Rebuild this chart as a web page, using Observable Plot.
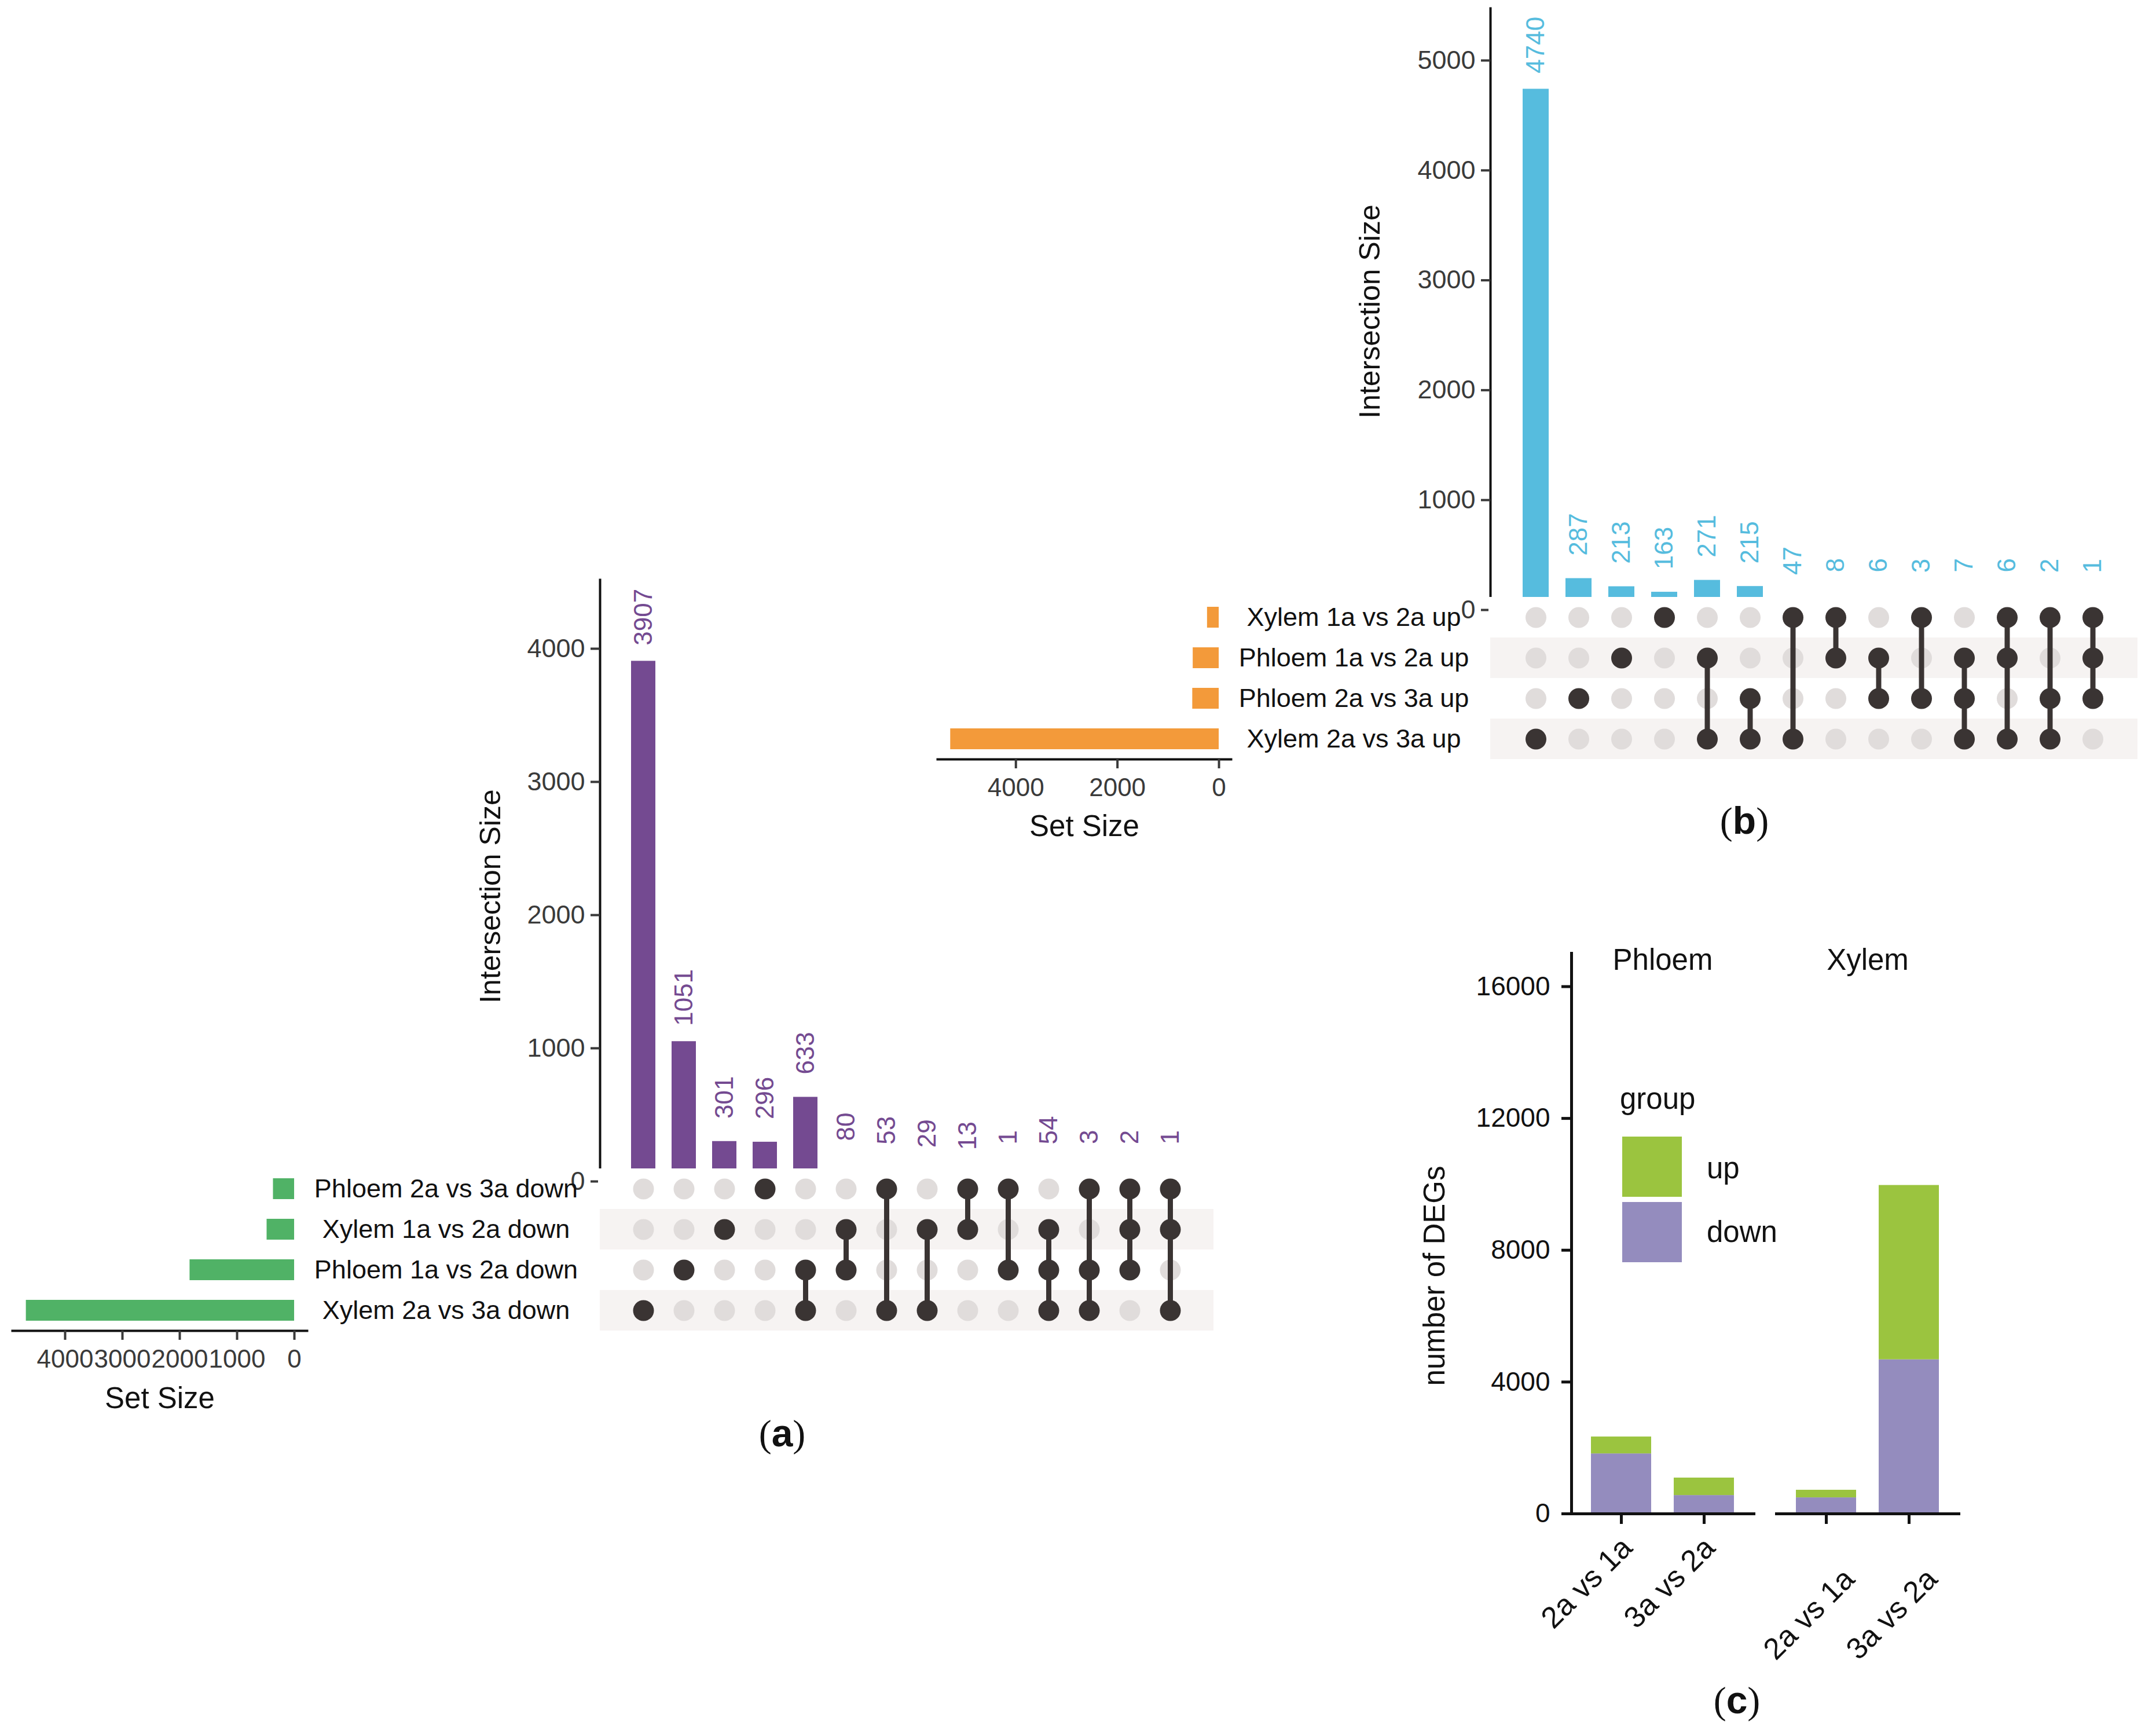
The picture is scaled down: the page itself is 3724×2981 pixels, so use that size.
<!DOCTYPE html>
<html><head><meta charset="utf-8">
<script src="https://cdn.jsdelivr.net/npm/d3@7"></script>
<script src="https://cdn.jsdelivr.net/npm/@observablehq/plot@0.6"></script>
<style>
html,body{margin:0;padding:0;background:#fff;}
#root{position:relative;width:3724px;height:2981px;overflow:hidden;font-family:"Liberation Sans",Arial,Helvetica,sans-serif;color:#111;}
.abs{position:absolute;line-height:1;white-space:nowrap;}
.abs svg{max-width:none;display:block;}
</style></head><body><div id="root"></div>
<script>
// ---------- Panel (a): down-regulated sets ----------
const setsA = ["Phloem 2a vs 3a down", "Xylem 1a vs 2a down", "Phloem 1a vs 2a down", "Xylem 2a vs 3a down"];
const setSizesA = [369, 480, 1824, 4680];
const interSizesA = [3907, 1051, 301, 296, 633, 80, 53, 29, 13, 1, 54, 3, 2, 1];
const interMembersA = [[3],[2],[1],[0],[2,3],[1,2],[0,3],[1,3],[0,1],[0,2],[1,2,3],[0,2,3],[0,1,2],[0,1,3]];
const stripesA = [setsA[1], setsA[3]];
const ticksA = [0, 1000, 2000, 3000, 4000];
const setTicksA = [4000, 3000, 2000, 1000, 0];

// ---------- Panel (b): up-regulated sets ----------
const setsB = ["Xylem 1a vs 2a up", "Phloem 1a vs 2a up", "Phloem 2a vs 3a up", "Xylem 2a vs 3a up"];
const setSizesB = [230, 512, 521, 5288];
const interSizesB = [4740, 287, 213, 163, 271, 215, 47, 8, 6, 3, 7, 6, 2, 1];
const interMembersB = [[3],[2],[1],[0],[1,3],[2,3],[0,3],[0,1],[1,2],[0,2],[1,2,3],[0,1,3],[0,2,3],[0,1,2]];
const stripesB = [setsB[1], setsB[3]];
const ticksB = [0, 1000, 2000, 3000, 4000, 5000];
const setTicksB = [4000, 2000, 0];

// ---------- Panel (c): number of DEGs ----------
const tissuesC = ["Phloem", "Xylem"];
const compsC = ["2a vs 1a", "3a vs 2a"];
const groupsC = ["up", "down"];
const phloemDown = [1824, 560];
const phloemUp = [512, 530];
const xylemDown = [490, 4680];
const xylemUp = [230, 5290];
const ticksC = [0, 4000, 8000, 12000, 16000];

// ---------- styles ----------
const FONT = '"Liberation Sans", Arial, Helvetica, sans-serif';
const PURPLE_A = "#744a91", CYAN_B = "#56bcde", ORANGE_B = "#f39a3a", GREEN_A = "#50b266";
const DARK = "#3a3433", GREY = "#e0dcdb", STRIPE = "#f6f3f2";
const colorsC = ["#9bc43f", "#948cbe"];
const plain = d => String(d);

const root = document.getElementById("root");
function place(node, left, top) {
  const d = document.createElement("div");
  d.className = "abs";
  d.style.left = left + "px";
  d.style.top = top + "px";
  d.appendChild(node);
  root.appendChild(d);
  return d;
}
const transparent = {background: "transparent", overflow: "visible", fontFamily: FONT};

function upset(o) {
  const cols = d3.range(o.inter.length);
  const xOpt = {type: "band", domain: cols, paddingInner: o.pi, paddingOuter: o.po, axis: null};
  const bars = o.inter.map((v, i) => ({id: i, size: v}));
  const FH = o.frameH;
  // intersection bars
  const barsPlot = Plot.plot({
    width: o.barsML + o.fw + 12, height: 10 + FH + 40,
    marginLeft: o.barsML, marginRight: 12, marginTop: 10, marginBottom: 40,
    x: xOpt,
    y: {domain: [0, o.ymax]},
    style: transparent,
    marks: [
      Plot.barY(bars, {x: "id", y: "size", fill: o.color}),
      Plot.text(bars, {x: "id", y: "size", text: d => String(d.size), rotate: -90, dy: -76,
        fill: o.color, fontSize: 44, textAnchor: "middle"}),
      Plot.frame({anchor: "left", stroke: "#111", strokeWidth: 4}),
      Plot.axisY(o.ticks, {tickSize: 16, tickPadding: 10, fontSize: 45, strokeWidth: 4, color: "#3a3a3a",
        tickFormat: plain, label: null}),
      Plot.text(["Intersection Size"], {text: d => d, frameAnchor: "left", rotate: -90, textAnchor: "middle",
        dx: o.titleDx, dy: o.titleDy, fontSize: 50, fill: "#111"})
    ]
  });
  place(barsPlot, o.frameLeft - o.barsML, o.frameTop - 10);

  // matrix
  const cells = [];
  o.members.forEach((m, i) => o.sets.forEach((s, j) => cells.push({id: i, set: s, on: m.includes(j)})));
  const links = o.members.map((m, i) => ({id: i, y1: o.sets[d3.min(m)], y2: o.sets[d3.max(m)], n: m.length}))
    .filter(d => d.n > 1);
  const matPlot = Plot.plot({
    width: 3 + o.fw, height: 280,
    marginLeft: 3, marginRight: 0, marginTop: 0, marginBottom: 0,
    x: xOpt,
    y: {type: "band", domain: o.sets, padding: 0, axis: null},
    style: {background: "#fff", overflow: "visible", fontFamily: FONT},
    marks: [
      Plot.cell(o.stripes, {y: d => d, fill: STRIPE}),
      Plot.dot(cells.filter(d => !d.on), {x: "id", y: "set", r: 18, fill: GREY}),
      Plot.link(links, {x1: "id", x2: "id", y1: "y1", y2: "y2", stroke: DARK, strokeWidth: 9}),
      Plot.dot(cells.filter(d => d.on), {x: "id", y: "set", r: 18, fill: DARK})
    ]
  });
  place(matPlot, o.frameLeft - 3, o.matTop);

  // set sizes
  const setData = o.sets.map((s, j) => ({set: s, size: o.setSizes[j]}));
  const setPlot = Plot.plot({
    width: o.setML + o.setFW + o.setMR, height: 280 + 170,
    marginLeft: o.setML, marginRight: o.setMR, marginTop: 0, marginBottom: 170,
    x: {domain: o.setDomain},
    y: {type: "band", domain: o.sets, padding: 0, axis: null},
    style: transparent,
    marks: [
      Plot.barX(setData, {x: "size", y: "set", fill: o.setColor, insetTop: 17, insetBottom: 17}),
      Plot.frame({anchor: "bottom", stroke: "#111", strokeWidth: 4}),
      Plot.axisX(o.setTicks, {anchor: "bottom", tickSize: 16, tickPadding: 16, fontSize: 44, strokeWidth: 4,
        color: "#3a3a3a", tickFormat: plain, label: null}),
      Plot.text(setData, {y: "set", text: "set", frameAnchor: "right", textAnchor: "middle", dx: o.labelDx,
        fontSize: 45, fill: "#111"}),
      Plot.text(["Set Size"], {text: d => d, frameAnchor: "bottom", textAnchor: "middle", dy: o.setTitleDy,
        fontSize: 51, fill: "#111"})
    ]
  });
  place(setPlot, o.setLeft, o.matTop);
}

// Panel (a)
upset({
  sets: setsA, setSizes: setSizesA, inter: interSizesA, members: interMembersA, stripes: stripesA,
  ticks: ticksA, setTicks: setTicksA, color: PURPLE_A, setColor: GREEN_A,
  pi: 0.406, po: 0.678, fw: 1060, frameLeft: 1036, frameTop: 1001, frameH: 1039, ymax: 4517,
  barsML: 238, titleDx: -189, titleDy: 27, matTop: 2018,
  setLeft: 0, setML: 21, setFW: 509, setMR: 506, setDomain: [4919, -222], labelDx: 240, setTitleDy: 133
});

// Panel (b)
upset({
  sets: setsB, setSizes: setSizesB, inter: interSizesB, members: interMembersB, stripes: stripesB,
  ticks: ticksB, setTicks: setTicksB, color: CYAN_B, setColor: ORANGE_B,
  pi: 0.398, po: 0.684, fw: 1118, frameLeft: 2574, frameTop: 14, frameH: 1039, ymax: 5474,
  barsML: 260, titleDx: -208, titleDy: 4, matTop: 1031,
  setLeft: 1580, setML: 39, setFW: 507, setMR: 448, setDomain: [5542, -239], labelDx: 212, setTitleDy: 132
});

// Panel (c)
function degPanel(tissue, down, up, left, ml, mr, fw, withY, tickPad, tickDx) {
  const data = [];
  compsC.forEach((c, i) => {
    data.push({comp: c, group: "down", value: down[i]});
    data.push({comp: c, group: "up", value: up[i]});
  });
  const marks = [
    Plot.barY(data, {x: "comp", y: "value", fill: "group"}),
    Plot.frame({anchor: "bottom", stroke: "#111", strokeWidth: 5}),
    Plot.axisX({tickSize: 18, strokeWidth: 5, stroke: "#111", text: null, label: null}),
    Plot.axisX({tickRotate: -45, tickSize: 0, tickPadding: 18 + tickPad, dx: tickDx, fontSize: 52,
      color: "#111", label: null}),
    Plot.text([tissue], {text: d => d, frameAnchor: "top", textAnchor: "middle", lineAnchor: "middle", dy: 12,
      fontSize: 51, fill: "#111"})
  ];
  if (withY) {
    marks.push(
      Plot.frame({anchor: "left", stroke: "#111", strokeWidth: 5}),
      Plot.axisY(ticksC, {tickSize: 17, tickPadding: 20, fontSize: 46, strokeWidth: 5, color: "#111",
        tickFormat: plain, label: null}),
      Plot.text(["number of DEGs"], {text: d => d, frameAnchor: "left", rotate: -90, textAnchor: "middle",
        dx: -236, dy: 73, fontSize: 51, fill: "#111"})
    );
  }
  const p = Plot.plot({
    width: ml + fw + mr, height: 46 + 968 + 300,
    marginLeft: ml, marginRight: mr, marginTop: 46, marginBottom: 300,
    x: {type: "band", domain: compsC, paddingInner: 0.273, paddingOuter: 0.234},
    y: withY ? {domain: [0, 17010]} : {domain: [0, 17010], axis: null},
    color: {domain: groupsC, range: colorsC},
    style: transparent,
    marks
  });
  place(p, left, 1600);
}
degPanel(tissuesC[0], phloemDown, phloemUp, 2420, 294, 10, 315, true, 32, 10);
degPanel(tissuesC[1], xylemDown, xylemUp, 3048, 20, 80, 315, false, 86, 40);

// Legend for panel (c)
function legendText(txt, left, top, size) {
  const s = document.createElement("span");
  s.textContent = txt;
  s.style.fontSize = size + "px";
  s.style.fontFamily = FONT;
  s.style.color = "#111";
  place(s, left, top);
}
legendText("group", 2798, 1872, 51);
groupsC.forEach((g, i) => {
  const sw = document.createElement("div");
  sw.style.width = "103px";
  sw.style.height = "104px";
  sw.style.background = colorsC[i];
  place(sw, 2802, 1963 + i * 113);
  legendText(g, 2948, 1992 + i * 110, 51);
});

// Panel tags
function tag(letter, cx, cy) {
  const d = document.createElement("div");
  d.innerHTML = '<span style="font-family:\'Liberation Serif\',serif;font-weight:normal">(</span>' +
    '<span style="font-family:' + FONT.replace(/"/g, "'") + ';font-weight:bold">' + letter + '</span>' +
    '<span style="font-family:\'Liberation Serif\',serif;font-weight:normal">)</span>';
  d.style.fontSize = "66px";
  d.style.color = "#111";
  const w = place(d, cx, cy);
  w.style.transform = "translate(-50%, -50%)";
}
tag("a", 1351, 2475);
tag("b", 3013, 1417);
tag("c", 3000, 2936);
</script></body></html>
